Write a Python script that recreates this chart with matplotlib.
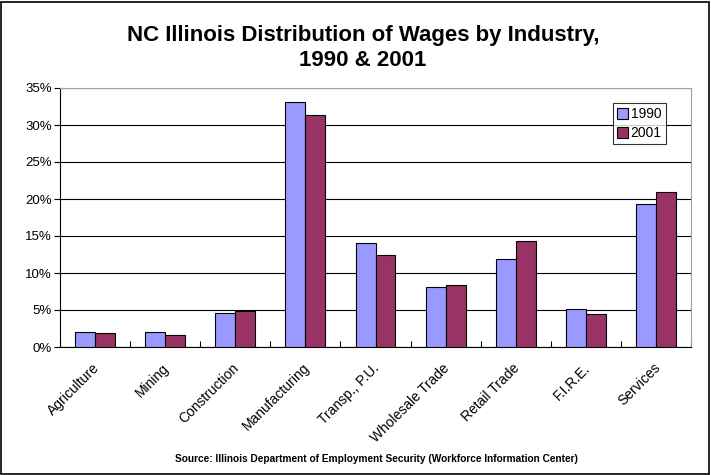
import numpy as np
import matplotlib.pyplot as plt
from matplotlib.ticker import PercentFormatter
from matplotlib.patches import Rectangle
import matplotlib.transforms as mtransforms

plt.rcParams['font.family'] = ['Liberation Sans', 'DejaVu Sans']

industries = ['Agriculture', 'Mining', 'Construction', 'Manufacturing', 'Transp., P.U.',
              'Wholesale Trade', 'Retail Trade', 'F.I.R.E.', 'Services']
wages_1990 = [2.0, 2.0, 4.6, 33.1, 14.0, 8.1, 11.9, 5.2, 19.3]
wages_2001 = [1.9, 1.6, 4.8, 31.3, 12.4, 8.4, 14.3, 4.5, 21.0]

fig = plt.figure(figsize=(7.11, 4.75), dpi=100)
ax = fig.add_axes([60/711, 1-347/475, 631/711, 259/475])

x = np.arange(len(industries))
w = 0.285
ax.bar(x - w/2, wages_1990, w, color='#9999FF', edgecolor='black', linewidth=0.8, label='1990', zorder=3)
ax.bar(x + w/2, wages_2001, w, color='#993366', edgecolor='black', linewidth=0.8, label='2001', zorder=3)

ax.set_xlim(-0.5, len(industries) - 0.5)
ax.set_ylim(0, 35)
ax.set_yticks(np.arange(0, 36, 5))
ax.yaxis.set_major_formatter(PercentFormatter(decimals=0))
ax.grid(axis='y', color='black', linewidth=0.8, zorder=0)

# category boundaries get the ticks, labels sit at the centers
ax.set_xticks(np.arange(-0.5, len(industries)))
ax.set_xticklabels([])
ax.set_xticks(x, minor=True)
ax.set_xticklabels(industries, minor=True, rotation=45, ha='right', rotation_mode='anchor')
ax.tick_params(axis='x', which='minor', length=0, pad=10, labelsize=10)
ax.tick_params(axis='x', which='major', length=4, direction='in', width=0.8)
ax.tick_params(axis='y', length=4, width=0.8, direction='out', labelsize=9.5, pad=2)
shift = mtransforms.ScaledTranslation(-3/100, 0, fig.dpi_scale_trans)
for lbl in ax.get_xticklabels(minor=True):
    lbl.set_transform(lbl.get_transform() + shift)

for s in ['top', 'right']:
    ax.spines[s].set_color('#a0a0a0')
for s in ['left', 'bottom']:
    ax.spines[s].set_color('black')
    ax.spines[s].set_linewidth(0.8)

leg = ax.legend(loc='upper right', bbox_to_anchor=(0.96, 0.942), frameon=True, fancybox=False,
                edgecolor='black', fontsize=10, handlelength=0.8, handleheight=0.8,
                handletextpad=0.2, borderpad=0.3, labelspacing=0.35, borderaxespad=0)
leg.get_frame().set_linewidth(0.8)

fig.text(363/711, 1 - 48/475, 'NC Illinois Distribution of Wages by Industry,\n1990 & 2001',
         ha='center', va='center', fontsize=16, fontweight='bold', linespacing=1.2)
fig.text(376/711, 1 - 459/475,
         'Source: Illinois Department of Employment Security (Workforce Information Center)',
         ha='center', va='center', fontsize=7.3, fontweight='bold')

fig.patches.append(Rectangle((1/711, 1/475), 708/711, 472/475, transform=fig.transFigure,
                             fill=False, edgecolor='black', linewidth=1.2))

fig.savefig('out.png', dpi=100)
